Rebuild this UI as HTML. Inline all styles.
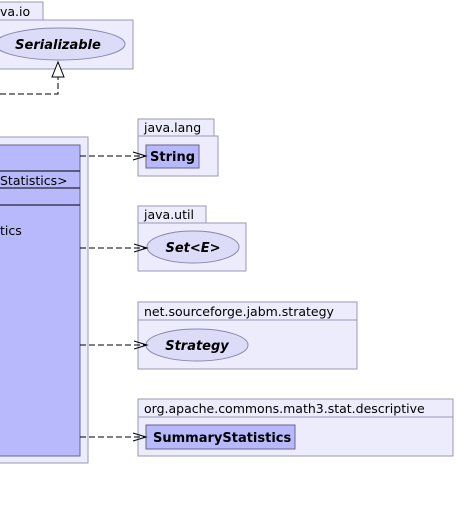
<!DOCTYPE html>
<html><head><style>body{margin:0;background:#fff}</style></head><body>
<svg width="456" height="502" xmlns="http://www.w3.org/2000/svg" font-family="'DejaVu Sans','Liberation Sans',sans-serif" font-size="12.5">
<g stroke="#9999b3" fill="#ececfc">
<rect x="-5" y="2" width="48" height="18"/>
<rect x="-5" y="20" width="138" height="49"/>
<rect x="-5" y="137" width="93" height="326"/>
<rect x="138" y="119" width="76" height="17"/>
<rect x="138" y="136" width="80" height="40"/>
<rect x="138" y="206" width="68" height="17"/>
<rect x="138" y="223" width="108" height="48"/>
<rect x="138" y="302" width="219" height="18"/>
<rect x="138" y="320" width="219" height="49"/>
<rect x="138" y="399" width="315" height="18"/>
<rect x="138" y="417" width="315" height="39"/>
</g>
<g stroke="#8888aa" fill="#dcdcf8">
<ellipse cx="60" cy="44" rx="65" ry="16"/>
<ellipse cx="193" cy="247" rx="46" ry="16"/>
<ellipse cx="197" cy="345" rx="51" ry="16"/>
</g>
<rect x="-5" y="145" width="85" height="311" fill="#b8b8fc" stroke="#666688"/>
<g stroke="#000"><line x1="0" y1="171" x2="80" y2="171"/><line x1="0" y1="188" x2="80" y2="188"/><line x1="0" y1="205" x2="80" y2="205"/></g>
<g fill="#b8b8fc" stroke="#666688"><rect x="146" y="145" width="53" height="23"/><rect x="146" y="425" width="149" height="24"/></g>
<g stroke="#000" fill="none" stroke-dasharray="6,3">
<path d="M0 94 H58 V77"/>
<line x1="80" y1="156" x2="145" y2="156"/>
<line x1="80" y1="248" x2="146" y2="248"/>
<line x1="80" y1="345" x2="146" y2="345"/>
<line x1="80" y1="437" x2="145" y2="437"/>
</g>
<polygon points="58,62 52,77 64,77" fill="#fff" stroke="#000"/>
<g stroke="#000" fill="none">
<path d="M133 152 L146 156 L133 160"/>
<path d="M134 244 L147 248 L134 252"/>
<path d="M134 341 L147 345 L134 349"/>
<path d="M133 433 L146 437 L133 441"/>
</g>
<g fill="#000">
<text x="0" y="16">va.io</text>
<text x="58" y="49" text-anchor="middle" font-weight="bold" font-style="italic" font-size="13">Serializable</text>
<text x="0" y="185">Statistics&gt;</text>
<text x="0" y="235">tics</text>
<text x="144" y="132">java.lang</text>
<text x="150" y="161" font-weight="bold" font-size="13">String</text>
<text x="144" y="219">java.util</text>
<text x="193" y="252" text-anchor="middle" font-weight="bold" font-style="italic" font-size="13">Set&lt;E&gt;</text>
<text x="144" y="316">net.sourceforge.jabm.strategy</text>
<text x="197" y="350" text-anchor="middle" font-weight="bold" font-style="italic" font-size="13">Strategy</text>
<text x="144" y="413">org.apache.commons.math3.stat.descriptive</text>
<text x="153" y="442" font-weight="bold" font-size="13">SummaryStatistics</text>
</g>
</svg>
</body></html>
